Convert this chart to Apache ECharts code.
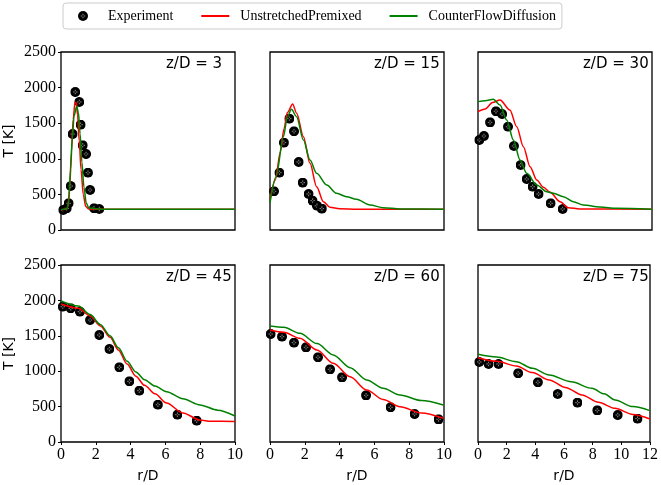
<!DOCTYPE html>
<html>
<head>
<meta charset="utf-8">
<script src="https://cdn.jsdelivr.net/npm/echarts@6/dist/echarts.min.js"></script>
<style>
html,body{margin:0;padding:0;background:#fff;}
#c{width:661px;height:485px;}
</style>
</head>
<body>
<div id="c"></div>
<script>
// ---- data ----
const seriesNames = ['Experiment', 'UnstretchedPremixed', 'CounterFlowDiffusion'];
const panelLabels = ['z/D = 3', 'z/D = 15', 'z/D = 30', 'z/D = 45', 'z/D = 60', 'z/D = 75'];
const xMaxes = [10, 10, 12, 10, 10, 12];
const yTicks = [0, 500, 1000, 1500, 2000, 2500];

const exp3 = [[0.13,281],[0.33,305],[0.44,375],[0.56,618],[0.67,1348],[0.82,1938],[1.05,1798],[1.13,1479],[1.25,1189],[1.44,1067],[1.55,805],[1.67,562],[1.90,305],[2.2,295]];
const red3 = [[0,285],[0.3,290],[0.4,330],[0.5,600],[0.6,1100],[0.7,1550],[0.8,1790],[0.88,1790],[0.95,1620],[1.05,1250],[1.15,850],[1.28,500],[1.42,330],[1.6,295],[2.5,290],[10,290]];
const green3 = [[0,285],[0.35,300],[0.45,420],[0.55,850],[0.65,1300],[0.75,1600],[0.9,1740],[1.0,1650],[1.1,1350],[1.2,950],[1.32,600],[1.45,380],[1.6,310],[2.5,290],[10,290]];

const exp15 = [[0.23,543],[0.54,805],[0.80,1227],[1.11,1564],[1.38,1386],[1.65,955],[1.88,665],[2.22,506],[2.45,412],[2.70,340],[2.98,300]];
const red15 = [[0,430],[0.3,700],[0.6,1100],[0.8,1420],[1.0,1650],[1.3,1770],[1.53,1640],[1.92,1311],[2.3,936],[2.68,608],[3.07,398],[3.45,318],[4.0,298],[5,290],[10,290]];
const green15 = [[0,380],[0.35,749],[0.77,1311],[1.0,1591],[1.23,1695],[1.53,1591],[1.92,1264],[2.3,983],[2.68,796],[3.26,632],[3.83,515],[4.4,468],[4.97,431],[5.75,351],[6.51,313],[7.5,295],[10,290]];

const exp30 = [[0.09,1264],[0.41,1320],[0.83,1512],[1.24,1667],[1.66,1629],[2.07,1451],[2.48,1180],[2.94,913],[3.36,716],[3.77,608],[4.18,506],[5.01,375],[5.84,295]];
const red30 = [[0,1662],[0.5,1700],[1.0,1790],[1.52,1826],[2.2,1685],[2.67,1451],[3.13,1170],[3.59,889],[4.05,702],[4.51,600],[4.97,529],[5.66,398],[6.23,313],[7,295],[12,290]];
const green30 = [[0,1803],[0.5,1815],[1.06,1835],[1.52,1756],[1.98,1545],[2.44,1264],[2.9,983],[3.36,796],[4.05,632],[4.74,538],[5.2,515],[5.89,468],[6.57,398],[7.26,351],[8.41,323],[9.56,305],[12,292]];

const exp45 = [[0.1,1911],[0.56,1888],[1.09,1841],[1.67,1723],[2.2,1511],[2.78,1314],[3.35,1055],[3.93,857],[4.5,725],[5.57,527],[6.69,386],[7.8,301]];
const red45 = [[0,1949],[1,1890],[1.67,1780],[2.26,1640],[2.82,1480],[3.3,1300],[3.8,1100],[4.3,930],[4.8,800],[5.4,680],[6.07,550],[7,410],[7.99,311],[8.6,292],[10,290]];
const green45 = [[0,1991],[1,1920],[1.67,1800],[2.26,1660],[2.82,1500],[3.3,1330],[3.8,1140],[4.3,990],[4.8,880],[5.4,790],[6.07,711],[7,610],[7.99,523],[9,450],[10,367]];

const exp60 = [[0.04,1525],[0.69,1488],[1.38,1403],[2.07,1337],[2.76,1196],[3.45,1026],[4.14,913],[5.52,659],[6.93,490],[8.31,395],[9.69,320]];
const red60 = [[0,1582],[0.8,1550],[1.72,1464],[2.7,1300],[3.64,1111],[4.6,920],[5.56,734],[6.5,600],[7.47,499],[8.7,410],[9.96,335]];
const green60 = [[0,1638],[0.8,1620],[1.72,1535],[2.7,1390],[3.64,1229],[4.6,1050],[5.56,876],[6.5,760],[7.47,664],[8.7,585],[9.96,523]];

const exp75 = [[0.09,1130],[0.74,1102],[1.43,1102],[2.8,970],[4.18,843],[5.56,678],[6.94,556],[8.32,447],[9.75,381],[11.13,330]];
const red75 = [[0,1191],[1.3,1140],[2.67,1073],[3.8,980],[4.97,876],[6.1,770],[7.26,664],[8.4,560],[9.56,475],[10.8,390],[12,325]];
const green75 = [[0,1238],[1.3,1200],[2.67,1135],[3.8,1040],[4.97,946],[6.5,850],[7.95,758],[8.8,680],[9.56,593],[10.8,500],[12,443]];

const expData = [exp3, exp15, exp30, exp45, exp60, exp75];
const redData = [red3, red15, red30, red45, red60, red75];
const greenData = [green3, green15, green30, green45, green60, green75];

// ---- layout / style ----
const grids = [
  {left: 61, top: 52, width: 174, height: 178},
  {left: 270, top: 52, width: 174, height: 178},
  {left: 478, top: 52, width: 174, height: 178},
  {left: 61, top: 265, width: 174, height: 177},
  {left: 270, top: 265, width: 174, height: 177},
  {left: 478, top: 265, width: 174, height: 177}
];
const labelLeft = [166, 374, 583, 166, 374, 583];
const serif = 'Liberation Serif';
const sans = 'DejaVu Sans';

const svg = "<svg xmlns='http://www.w3.org/2000/svg' width='40' height='40' viewBox='0 0 40 40'>" +
  "<circle cx='20' cy='20' r='20' fill='black'/>" +
  "<path d='M20 11V17M20 23V29M11 20H17M23 20H29' stroke='white' stroke-width='2.2'/>" +
  "</svg>";
const markerSym = 'image://data:image/svg+xml;charset=utf-8,' + encodeURIComponent(svg);

const option = {
  animation: false,
  backgroundColor: '#fff',
  legend: {
    left: 63, top: 3,
    padding: [6, 6, 6, 6],
    borderColor: '#ccc', borderWidth: 1, borderRadius: 3,
    itemGap: 27, itemWidth: 28, itemHeight: 10,
    textStyle: {fontFamily: serif, fontSize: 14, color: '#000', padding: [0, 0, 0, 6]},
    data: [
      {name: seriesNames[0], icon: markerSym, itemStyle: {opacity: 1}},
      {name: seriesNames[1], itemStyle: {opacity: 0}},
      {name: seriesNames[2], itemStyle: {opacity: 0}}
    ]
  },
  title: panelLabels.map((t, i) => ({
    text: t, left: labelLeft[i], top: grids[i].top + 5, padding: 0,
    textStyle: {fontFamily: sans, fontSize: 15, fontWeight: 'normal', color: '#000'}
  })),
  grid: grids.map(g => Object.assign({show: true, borderColor: '#000', borderWidth: 1.3, backgroundColor: 'transparent'}, g)),
  xAxis: grids.map((g, i) => ({
    gridIndex: i, type: 'value', min: 0, max: xMaxes[i], interval: 2,
    axisLine: {show: false},
    splitLine: {show: false},
    axisTick: {show: i >= 3, length: 3, lineStyle: {color: '#000', width: 1}},
    axisLabel: {show: i >= 3, fontFamily: serif, fontSize: 16, color: '#000', margin: 5},
    name: i >= 3 ? 'r/D' : '', nameLocation: 'middle', nameGap: 27,
    nameTextStyle: {fontFamily: sans, fontSize: 14, color: '#000'}
  })),
  yAxis: grids.map((g, i) => ({
    gridIndex: i, type: 'value', min: yTicks[0], max: yTicks[yTicks.length - 1], interval: 500,
    axisLine: {show: false},
    splitLine: {show: false},
    axisTick: {show: i % 3 === 0, length: 3, lineStyle: {color: '#000', width: 1}},
    axisLabel: {show: i % 3 === 0, fontFamily: serif, fontSize: 16, color: '#000', margin: 5,
      formatter: v => String(v)},
    name: i % 3 === 0 ? 'T [K]' : '', nameLocation: 'middle', nameGap: 45, nameRotate: 90,
    nameTextStyle: {fontFamily: sans, fontSize: 14, color: '#000'}
  })),
  series: []
};

for (let i = 0; i < 6; i++) {
  option.series.push({
    name: seriesNames[0], type: 'scatter', xAxisIndex: i, yAxisIndex: i,
    data: expData[i], symbol: markerSym, symbolSize: 10, symbolKeepAspect: true, z: 2,
    itemStyle: {opacity: 1, color: '#000'}, clip: false
  });
  option.series.push({
    name: seriesNames[1], type: 'line', xAxisIndex: i, yAxisIndex: i,
    data: redData[i], symbol: 'none', smooth: 0.3, smoothMonotone: 'x',
    lineStyle: {color: '#ff0000', width: 1.5}, itemStyle: {color: '#ff0000'}, z: 3
  });
  option.series.push({
    name: seriesNames[2], type: 'line', xAxisIndex: i, yAxisIndex: i,
    data: greenData[i], symbol: 'none', smooth: 0.3, smoothMonotone: 'x',
    lineStyle: {color: '#008000', width: 1.5}, itemStyle: {color: '#008000'}, z: 4
  });
}

const chart = echarts.init(document.getElementById('c'), null, {renderer: 'canvas'});
chart.setOption(option);
</script>
</body>
</html>
